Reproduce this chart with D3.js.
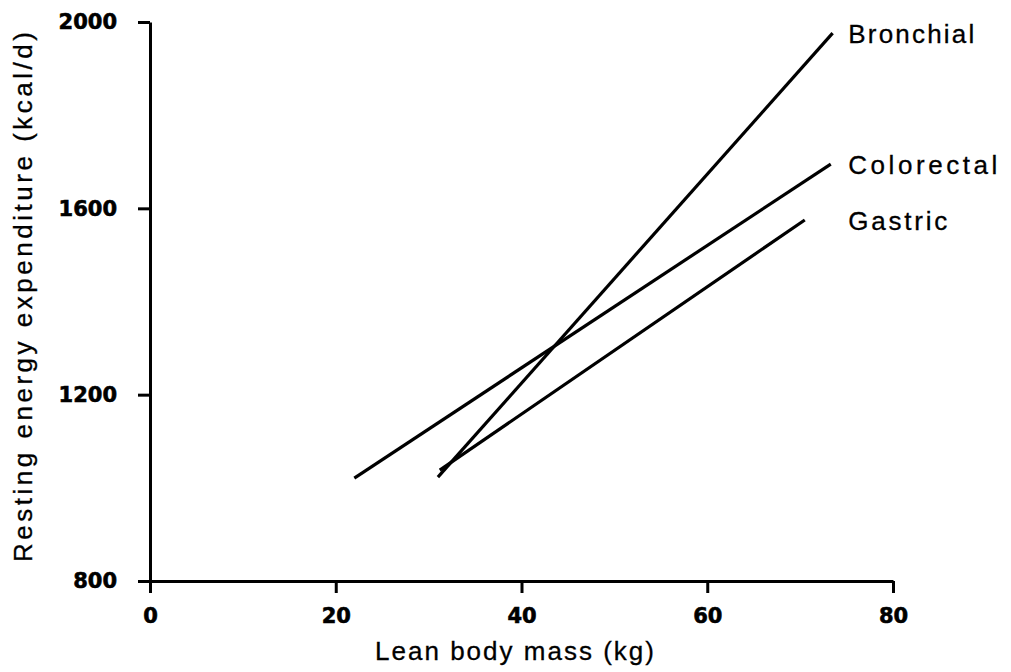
<!DOCTYPE html>
<html>
<head>
<meta charset="utf-8">
<script src="https://cdn.jsdelivr.net/npm/d3@7"></script>
<style>
  html, body { margin: 0; padding: 0; background: #fff; }
  svg { display: block; }
  .tick text { font-family: "DejaVu Sans", sans-serif; font-weight: bold; font-size: 21px; fill: #000; stroke: #000; stroke-width: 0.6px; }
  .title, .series-label { font-family: "Liberation Sans", Arial, sans-serif; font-size: 26px; fill: #000; stroke: #000; stroke-width: 0.3px; }
</style>
</head>
<body>
<svg id="chart" width="1011" height="672"></svg>
<script>
// Regression lines of resting energy expenditure against lean body mass
const seriesNames = ["Bronchial", "Colorectal", "Gastric"];
const startMass   = [31.0, 22.0, 31.2];     // kg
const startREE    = [1023, 1021, 1038];     // kcal/d
const endMass     = [73.5, 73.3, 70.5];     // kg
const endREE      = [1976, 1695, 1575];     // kcal/d

const xTicks = [0, 20, 40, 60, 80];
const yTicks = [800, 1200, 1600, 2000];

const svg = d3.select("#chart");

const x = d3.scaleLinear().domain([0, 80]).range([150, 893]);
const y = d3.scaleLinear().domain([800, 2000]).range([581, 22]);

// Axes
svg.append("g")
  .attr("transform", `translate(0,${y(800)})`)
  .call(d3.axisBottom(x).tickValues(xTicks).tickFormat(d3.format("d"))
    .tickSize(12).tickSizeOuter(0).tickPadding(15));

svg.append("g")
  .attr("transform", `translate(${x(0)},0)`)
  .call(d3.axisLeft(y).tickValues(yTicks).tickFormat(d3.format("d"))
    .tickSize(12).tickSizeOuter(0).tickPadding(21));

svg.selectAll(".domain").attr("stroke", "#000").attr("stroke-width", 3);
svg.selectAll(".tick line").attr("stroke", "#000").attr("stroke-width", 3);

// Series lines
const lines = seriesNames.map((name, i) => ({
  name,
  pts: [[startMass[i], startREE[i]], [endMass[i], endREE[i]]]
}));

const line = d3.line().x(d => x(d[0])).y(d => y(d[1]));

svg.append("g").selectAll("path")
  .data(lines)
  .join("path")
  .attr("d", d => line(d.pts))
  .attr("fill", "none")
  .attr("stroke", "#000")
  .attr("stroke-width", 3.2)
  .attr("stroke-linecap", "butt");

// Labels at the upper end of each line
const labelLen = { Bronchial: 126, Colorectal: 149, Gastric: 99 };
svg.append("g").selectAll("text")
  .data(lines)
  .join("text")
  .attr("class", "series-label")
  .attr("x", d => x(74) + 11)
  .attr("y", d => y(d.pts[1][1]) + 10)
  .attr("textLength", d => labelLen[d.name])
  .attr("lengthAdjust", "spacing")
  .text(d => d.name);

// Axis titles
svg.append("text")
  .attr("class", "title")
  .attr("x", 375)
  .attr("y", 660)
  .attr("textLength", 279)
  .attr("lengthAdjust", "spacing")
  .text("Lean body mass (kg)");

svg.append("text")
  .attr("class", "title")
  .attr("transform", "translate(32,562) rotate(-90)")
  .attr("textLength", 530)
  .attr("lengthAdjust", "spacing")
  .text("Resting energy expenditure (kcal/d)");
</script>
</body>
</html>
